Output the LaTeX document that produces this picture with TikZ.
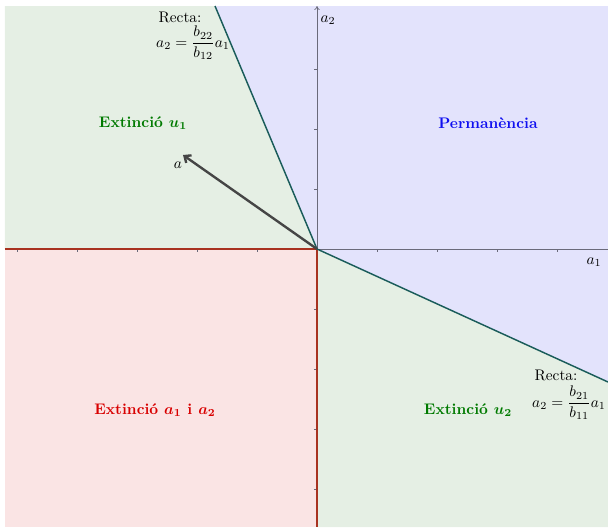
\documentclass[tikz,border=0pt]{standalone}
\usepackage{amsmath}
\usetikzlibrary{arrows.meta}
\definecolor{gfill}{HTML}{E5EFE4}
\definecolor{bfill}{HTML}{E3E3FC}
\definecolor{rfill}{HTML}{FAE4E4}
\definecolor{tealline}{HTML}{1A5C5A}
\definecolor{redline}{HTML}{A83220}
\definecolor{axisgray}{HTML}{6A6A7A}
\definecolor{vecgray}{HTML}{454545}
\definecolor{txtgreen}{HTML}{007A00}
\definecolor{txtblue}{HTML}{1010F0}
\definecolor{txtred}{HTML}{D80000}
\begin{document}
\begin{tikzpicture}[x=0.652pt,y=0.652pt,
  axisline/.style={draw=axisgray,line width=0.45pt},
  tickmark/.style={draw=axisgray,line width=0.35pt},
  boundary/.style={draw=tealline,line width=0.95pt},
  redaxis/.style={draw=redline,line width=1.2pt},
  vec/.style={draw=vecgray,line width=1.55pt,-{Straight Barb[length=3.5pt,width=6pt]}},
  region/.style={font=\bfseries\boldmath},
  lbl/.style={inner sep=1pt}]
\useasboundingbox (-317,-278) rectangle (291,249);
\coordinate (O) at (0,0);
\coordinate (T) at (-102,243);
\coordinate (R) at (291,-133);
\coordinate (L) at (-312,0);
\coordinate (B) at (0,-278);
\coordinate (TL) at (-312,243);
\coordinate (TR) at (291,243);
\coordinate (BR) at (291,-278);
\coordinate (BL) at (-312,-278);
\coordinate (Xend) at (291,0);
\coordinate (Yend) at (0,243);
\coordinate (A) at (-134,94);
% regions
\fill[gfill] (L) -- (TL) -- (T) -- (O) -- cycle;
\fill[bfill] (O) -- (T) -- (TR) -- (R) -- cycle;
\fill[rfill] (L) -- (O) -- (B) -- (BL) -- cycle;
\fill[gfill] (O) -- (R) -- (BR) -- (B) -- cycle;
% axes
\draw[axisline] (O) -- (Xend);
\draw[axisline,-{To[length=2.6pt,width=3.5pt]}] (O) -- (Yend);
\foreach \t in {-300,-240,-180,-120,-60,60,120,180,240}
  \draw[tickmark] (\t,0) -- (\t,-3);
\foreach \t in {-240,-180,-120,-60,60,120,180}
  \draw[tickmark] (0,\t) -- (-3,\t);
\draw[redaxis] (L) -- (O) -- (B);
% boundary lines
\draw[boundary] (O) -- (T);
\draw[boundary] (O) -- (R);
% vector
\draw[vec] (O) -- (A);
\node[lbl] (alab) at (-139,84) {$a$};
% axis labels
\node[lbl] (a2lab) at (11,229) {$a_2$};
\node[lbl] (a1lab) at (277,-13) {$a_1$};
% region labels
\node[region,text=txtgreen] (u1) at (-174,126) {Extinció $u_1$};
\node[region,text=txtblue] (perm) at (171,126) {Permanència};
\node[region,text=txtred] (a1a2) at (-162,-161) {Extinció $a_1$ i $a_2$};
\node[region,text=txtgreen] (u2) at (151,-161) {Extinció $u_2$};
% line labels
\node[lbl] (r1) at (-137,232) {Recta:};
\node[lbl] (f1) at (-124,206) {$a_2=\dfrac{b_{22}}{b_{12}}a_1$};
\node[lbl] (r2) at (239,-126) {Recta:};
\node[lbl] (f2) at (252,-154) {$a_2=\dfrac{b_{21}}{b_{11}}a_1$};
\end{tikzpicture}
\end{document}
